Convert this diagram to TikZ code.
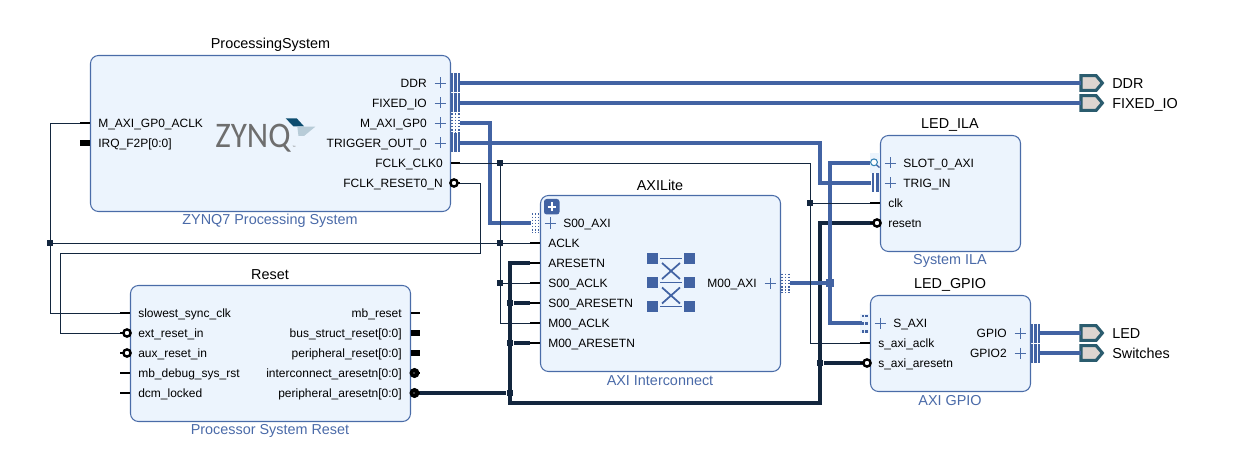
\documentclass[tikz,border=0pt]{standalone}
\usepackage{fontspec}
\setmainfont{Liberation Sans}
\newfontfamily\logofont{Carlito}
\usetikzlibrary{shapes.symbols}
\definecolor{blockfill}{HTML}{ECF4FD}
\definecolor{blockedge}{HTML}{4A6CA8}
\definecolor{busblue}{HTML}{4263A3}
\definecolor{buslight}{HTML}{93A9CF}
\definecolor{wiredark}{HTML}{13263E}
\definecolor{subtitleblue}{HTML}{4A6AA8}
\definecolor{extedge}{HTML}{2B5C6E}
\definecolor{extfill}{HTML}{DDD5D0}
\definecolor{logogray}{HTML}{6E6E6E}
\definecolor{logoteal}{HTML}{0D4D70}
\definecolor{logolight}{HTML}{B8CCD8}
\tikzset{
  blockbox/.style={draw=blockedge,fill=blockfill,line width=.8pt,rounded corners=6pt,inner sep=0pt,outer sep=0pt},
  blocktitle/.style={font=\fontsize{10.8pt}{12pt}\selectfont,text=black,inner sep=0pt,yshift=-.4pt},
  blocksub/.style={font=\fontsize{10.8pt}{12pt}\selectfont,text=subtitleblue,inner sep=0pt,yshift=-.4pt},
  pinleft/.style={font=\fontsize{9pt}{10pt}\selectfont,text=black,inner sep=0pt,anchor=base west,yshift=-3.5pt},
  pinright/.style={font=\fontsize{9pt}{10pt}\selectfont,text=black,inner sep=0pt,anchor=base east,yshift=-3.5pt},
  extlabel/.style={font=\fontsize{10.8pt}{12pt}\selectfont,text=black,inner sep=0pt,anchor=base west,yshift=-4pt},
  busline/.style={line width=2.3pt,draw=busblue,preaction={draw=buslight,line width=3.5pt}},
  thinwire/.style={line width=.7pt,draw=wiredark},
  rstwire/.style={line width=2.3pt,draw=wiredark},
  stub/.style={line width=2.2pt,draw=black},
  busstub/.style={line width=3.8pt,draw=black},
  plusmark/.style={line width=.6pt,draw=blockedge},
  barmark/.style={fill=busblue,draw=none},
  dotmark/.style={line width=1.4pt,draw=busblue,dash pattern=on 1.3pt off 1pt},
  ringpin/.style={circle,draw=black,fill=white,line width=1.8pt,minimum size=5.4pt,inner sep=0pt},
  solidpin/.style={circle,fill=black,minimum size=7.6pt,inner sep=0pt},
  solidcore/.style={circle,fill=white,minimum size=1pt,inner sep=0pt},
  jthin/.style={fill=wiredark,minimum size=3.8pt,inner sep=0pt},
  jthick/.style={fill=wiredark,minimum size=5.2pt,inner sep=0pt},
  jbus/.style={fill=busblue,minimum size=6pt,inner sep=0pt},
  extport/.style={signal,signal to=east,signal pointer angle=100,draw=extedge,fill=extfill,line width=2.3pt,minimum width=16pt,minimum height=11pt,inner sep=0pt,outer sep=0pt},
}
\begin{document}
\begin{tikzpicture}[x=.75pt,y=-.75pt]
\useasboundingbox (0,0) rectangle (1251,463);

% blocks
\node[blockbox,minimum width=270pt,minimum height=117pt] (ps) at (270.5,133.5) {};
\node[blockbox,minimum width=180pt,minimum height=132pt] (ic) at (660.5,283.5) {};
\node[blockbox,minimum width=105pt,minimum height=87pt] (ila) at (950.5,193.5) {};
\node[blockbox,minimum width=120pt,minimum height=72pt] (gpio) at (950.5,343.5) {};
\node[blockbox,minimum width=210pt,minimum height=102pt] (rst) at (270.5,353.5) {};

% block names and types
\node[blocktitle] (psT) at (270.5,44.5) {ProcessingSystem};
\node[blocksub] (psS) at (270,220.5) {ZYNQ7 Processing System};
\node[blocktitle] (icT) at (660,184.5) {AXILite};
\node[blocksub] (icS) at (660,380.5) {AXI Interconnect};
\node[blocktitle] (ilaT) at (950,124.5) {LED\_ILA};
\node[blocksub] (ilaS) at (950,260.5) {System ILA};
\node[blocktitle] (gpioT) at (950,284.5) {LED\_GPIO};
\node[blocksub] (gpioS) at (950,400.5) {AXI GPIO};
\node[blocktitle] (rstT) at (270,274.5) {Reset};
\node[blocksub] (rstS) at (270,430.5) {Processor System Reset};

% pin positions on the blocks
\coordinate (psAclk) at (80,123);
\coordinate (psDdr) at (460,83);
\coordinate (psFix) at (460,103);
\coordinate (psGp) at (460,123);
\coordinate (psTrig) at (460,143);
\coordinate (psClk) at (460,163);
\coordinate (psRst) at (460,183);
\coordinate (icSaxi) at (531,223);
\coordinate (icAclk) at (530,243);
\coordinate (icArst) at (530,263);
\coordinate (icSclk) at (530,283);
\coordinate (icSrst) at (530,303);
\coordinate (icMclk) at (530,323);
\coordinate (icMrst) at (530,343);
\coordinate (icMaxi) at (790,283);
\coordinate (ilaSlot) at (871,163);
\coordinate (ilaTrig) at (871,183);
\coordinate (ilaClk) at (870,203);
\coordinate (ilaRst) at (873,223);
\coordinate (gpioSaxi) at (861,323);
\coordinate (gpioClk) at (860,343);
\coordinate (gpioRst) at (863,363);
\coordinate (gpioLed) at (1040,333);
\coordinate (gpioSw) at (1040,353);
\coordinate (rstClk) at (120,313);
\coordinate (rstExt) at (123,333);
\coordinate (rstPer) at (418,393);

% external ports
\node[extport,anchor=west] (xDdr) at (1081,83) {};
\node[extport,anchor=west] (xFix) at (1081,103) {};
\node[extport,anchor=west] (xLed) at (1081,333) {};
\node[extport,anchor=west] (xSw) at (1081,353) {};
\node[extlabel] (xDdrL) at (1112,83) {DDR};
\node[extlabel] (xFixL) at (1112,103) {FIXED\_IO};
\node[extlabel] (xLedL) at (1112,333) {LED};
\node[extlabel] (xSwL) at (1112,353) {Switches};

% reset nets
\node[jthick] (jr1) at (510,303) {};
\node[jthick] (jr2) at (510,343) {};
\node[jthick] (jr3) at (510,393) {};
\node[jthick] (jr4) at (820,363) {};
\coordinate (rstTop) at (510,263);
\coordinate (rstLow) at (510,403);
\coordinate (rstFar) at (820,403);
\draw[rstwire] (rstPer) -- (jr3);
\draw[rstwire] (icArst) -- (rstTop) -- (rstLow) -- (rstFar) |- (ilaRst);
\draw[rstwire] (jr1) -- (icSrst);
\draw[rstwire] (jr2) -- (icMrst);
\draw[rstwire] (jr4) -- (gpioRst);

% interface nets
\draw[busline] (psDdr) -- (xDdr.west);
\draw[busline] (psFix) -- (xFix.west);
\draw[busline] (gpioLed) -- (xLed.west);
\draw[busline] (gpioSw) -- (xSw.west);
\coordinate (gpJog) at (490,123);
\draw[busline,line join=miter] (psGp) -- (gpJog) |- (icSaxi);
\coordinate (trigJog) at (820,143);
\draw[busline,line join=miter] (psTrig) -- (trigJog) |- (ilaTrig);
\node[jbus] (jb) at (830,283) {};
\draw[busline] (icMaxi) -- (jb);
\draw[busline,line join=miter] (ilaSlot) -| (jb) |- (gpioSaxi);
\node[jbus] (jb2) at (830,283) {};

% clock nets
\node[jthin] (jc1) at (500,163) {};
\node[jthin] (jc2) at (500,243) {};
\node[jthin] (jc3) at (500,283) {};
\node[jthin] (jc4) at (810,203) {};
\node[jthin] (jc5) at (50,243) {};
\coordinate (clkTurn) at (810,163);
\coordinate (clkLow) at (500,323);
\draw[thinwire] (psClk) -- (clkTurn) |- (gpioClk);
\draw[thinwire] (jc1) -- (clkLow) -- (icMclk);
\draw[thinwire] (jc3) -- (icSclk);
\draw[thinwire] (jc5) -- (icAclk);
\draw[thinwire] (jc4) -- (ilaClk);
\draw[thinwire] (psAclk) -| (jc5) |- (rstClk);
\coordinate (rstUp) at (480,253);
\coordinate (rstLeft) at (60,253);
\draw[thinwire] (psRst) -| (rstUp) -- (rstLeft) |- (rstExt);

% pin stubs
\foreach \a/\b/\y in {80/90/123,460/451/163,120/130/313,120/130/373,120/130/393,530/540/243,530/540/263,530/540/283,530/540/303,530/540/323,530/540/343,870/880/203,860/870/343,411/420/313}
  \draw[stub] (\a,\y) -- (\b,\y);
\draw[busstub] (80,143) -- (90,143);
\draw[busstub] (411,333) -- (420,333);
\draw[busstub] (411,353) -- (420,353);

% inverted pins
\draw[stub] (120,333) -- (126,333);
\draw[stub] (120,353) -- (126,353);
\draw[stub] (455,183) -- (460,183);
\draw[stub] (860,363) -- (866,363);
\draw[stub] (870,223) -- (876,223);
\node[ringpin] (rExt) at (127,333) {};
\node[ringpin] (rAux) at (127,353) {};
\node[ringpin] (rPs) at (454,183) {};
\node[ringpin] (rGpio) at (867,363) {};
\node[ringpin] (rIla) at (877,223) {};
\draw[stub] (414,373) -- (420,373);
\draw[stub] (414,393) -- (420,393);
\node[solidpin] (sInt) at (414.5,373) {};
\node[solidpin] (sPer) at (414.5,393) {};
\node[solidcore] (sIntC) at (414,373) {};
\node[solidcore] (sPerC) at (414,393) {};

% bundled interface marks
\foreach \x/\y in {451/83,451/103,451/143,1031/333,1031/353}
  \foreach \d in {0,3.4,6.8}
    \fill[barmark] ({\x+\d},{\y-9.5}) rectangle ({\x+\d+2.4},{\y+9.5});
\foreach \d in {0,4.4}
  \fill[barmark] ({871.5+\d},173.5) rectangle ({871.5+\d+2.8},192.5);
\foreach \x/\y in {452/123,455.5/123,459/123,532.5/223,535.5/223,538.5/223,782/283,785.5/283,789/283}
  \draw[dotmark] (\x,{\y-9.5}) -- (\x,{\y+9.5});
\fill[blockfill] (860,314) rectangle (870,333);
\foreach \a in {862,865.4}
  \foreach \b in {314.5,322,330}
    \fill[barmark] (\a,\b) rectangle ({\a+2.2},{\b+2.6});
\fill[busblue] (860,321.2) rectangle (861.5,324.8);

% analyzer probe on the monitored interface
\fill[blockfill] (870,153) rectangle (880,173);
\draw[line width=.75pt,draw=busblue] (ilaSlot) -- (870.5,163);
\draw[line width=1pt,draw=busblue] (876.5,165) -- (879.5,167.5);
\draw[line width=.8pt,draw=busblue!80!cyan,fill=white] (874,162.3) circle (3.4);

% expansion marks
\foreach \x/\y in {440/83,440/103,440/123,440/143,550/223,770/283,890/163,890/183,880/323,1020/333,1020/353}
  \draw[plusmark] ({\x-5.5},\y) -- ({\x+5.5},\y) (\x,{\y-5.5}) -- (\x,{\y+5.5});

% collapse button on the interconnect
\fill[busblue,rounded corners=2pt] (544,199) rectangle (559.5,214.5);
\draw[white,line width=1.6pt] (547.5,206.7) -- (556,206.7) (551.7,202.5) -- (551.7,211);

% pin names
\foreach \y/\t [count=\i] in {123/{M\_AXI\_GP0\_ACLK},143/{IRQ\_F2P[0:0]}}
  \node[pinleft,name=psL\i] at (98,\y) {\t};
\foreach \y/\t [count=\i] in {83/{DDR},103/{FIXED\_IO},123/{M\_AXI\_GP0},143/{TRIGGER\_OUT\_0}}
  \node[pinright,name=psR\i] at (427,\y) {\t};
\foreach \y/\t [count=\i] in {163/{FCLK\_CLK0},183/{FCLK\_RESET0\_N}}
  \node[pinright,name=psQ\i] at (443,\y) {\t};
\node[pinleft] (icL0) at (563,223) {S00\_AXI};
\foreach \y/\t [count=\i] in {243/{ACLK},263/{ARESETN},283/{S00\_ACLK},303/{S00\_ARESETN},323/{M00\_ACLK},343/{M00\_ARESETN}}
  \node[pinleft,name=icL\i] at (548,\y) {\t};
\node[pinright] (icR) at (757,283) {M00\_AXI};
\node[pinleft] (ilaL1) at (903,163) {SLOT\_0\_AXI};
\node[pinleft] (ilaL2) at (903,183) {TRIG\_IN};
\node[pinleft] (ilaL3) at (888,203) {clk};
\node[pinleft] (ilaL4) at (888,223) {resetn};
\node[pinleft] (gpioL1) at (893,323) {S\_AXI};
\node[pinleft] (gpioL2) at (878,343) {s\_axi\_aclk};
\node[pinleft] (gpioL3) at (878,363) {s\_axi\_aresetn};
\node[pinright] (gpioR1) at (1007,333) {GPIO};
\node[pinright] (gpioR2) at (1007,353) {GPIO2};
\foreach \y/\t [count=\i] in {313/{slowest\_sync\_clk},333/{ext\_reset\_in},353/{aux\_reset\_in},373/{mb\_debug\_sys\_rst},393/{dcm\_locked}}
  \node[pinleft,name=rstL\i] at (138,\y) {\t};
\foreach \y/\t [count=\i] in {313/{mb\_reset},333/{bus\_struct\_reset[0:0]},353/{peripheral\_reset[0:0]},373/{interconnect\_aresetn[0:0]},393/{peripheral\_aresetn[0:0]}}
  \node[pinright,name=rstR\i] at (402,\y) {\t};

% ZYNQ logo
\node[text=logogray,font=\logofont\fontsize{27pt}{28pt}\selectfont,inner sep=0pt,anchor=base,xscale=.92] (zynq) at (253,148) {ZYNQ};
\node[text=logogray,font=\fontsize{2.5pt}{3pt}\selectfont,inner sep=0pt] (zynqTm) at (294,147) {™};
\fill[logoteal] (285.7,118.3) -- (296.7,118.3) -- (304,126.3) -- (293.3,126.3) -- cycle;
\fill[logolight] (297.3,126.7) -- (315.3,126.7) -- (304,136) -- (298.5,136) -- cycle;

% crossbar symbol
\foreach \a in {647,684}
  \foreach \b in {253,277,301}
    \fill[busblue] (\a,\b) rectangle ({\a+11},{\b+11});
\foreach \b in {258.5,282.5,306.5}
  \draw[line width=1.1pt,draw=busblue] (660,\b) -- (682,\b);
\foreach \b in {263,287.5}
  \draw[line width=1.3pt,draw=busblue] (662,\b) -- (680,{\b+16}) (680,\b) -- (662,{\b+16});
\end{tikzpicture}
\end{document}
